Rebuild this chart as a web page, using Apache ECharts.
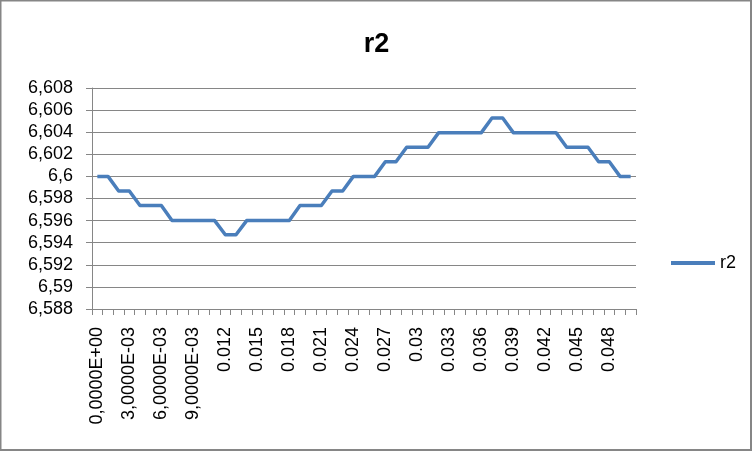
<!DOCTYPE html>
<html>
<head>
<meta charset="utf-8">
<script src="https://cdn.jsdelivr.net/npm/echarts@6/dist/echarts.min.js"></script>
<style>
html,body{margin:0;padding:0;background:#fff;}
#chart{width:753px;height:451px;}
</style>
</head>
<body>
<div id="chart"></div>
<script>
var categories = [
  "0,0000E+00","1,0000E-03","2,0000E-03","3,0000E-03","4,0000E-03",
  "5,0000E-03","6,0000E-03","7,0000E-03","8,0000E-03","9,0000E-03",
  "0.01","0.011","0.012","0.013","0.014","0.015","0.016","0.017","0.018","0.019",
  "0.02","0.021","0.022","0.023","0.024","0.025","0.026","0.027","0.028","0.029",
  "0.03","0.031","0.032","0.033","0.034","0.035","0.036","0.037","0.038","0.039",
  "0.04","0.041","0.042","0.043","0.044","0.045","0.046","0.047","0.048","0.049",
  "0.05"
];
var r2Values = [
  6.6, 6.6, 6.59868, 6.59868, 6.59736, 6.59736, 6.59736, 6.596, 6.596, 6.596,
  6.596, 6.596, 6.59472, 6.59472, 6.596, 6.596, 6.596, 6.596, 6.596, 6.59736,
  6.59736, 6.59736, 6.59868, 6.59868, 6.6, 6.6, 6.6, 6.60132, 6.60132, 6.60264,
  6.60264, 6.60264, 6.60396, 6.60396, 6.60396, 6.60396, 6.60396, 6.60528, 6.60528, 6.60396,
  6.60396, 6.60396, 6.60396, 6.60396, 6.60264, 6.60264, 6.60264, 6.60132, 6.60132, 6.6,
  6.6
];
var seriesName = "r2";
var chartTitle = "r2";
var yMin = 6.588, yMax = 6.608, yStep = 0.002;

var FONT = "'Liberation Sans', Arial, sans-serif";
var GRAY = "#868686";
var BLUE = "#4a7ebb";

var chart = echarts.init(document.getElementById('chart'), null, {renderer: 'canvas'});
chart.setOption({
  animation: false,
  backgroundColor: '#ffffff',
  title: {
    text: chartTitle,
    left: 'center',
    top: 26,
    textStyle: {fontFamily: FONT, fontSize: 27, fontWeight: 'bold', color: '#000'}
  },
  legend: {
    data: [{name: seriesName, icon: 'path://M0,0H44V4H0Z'}],
    left: 666,
    top: 249,
    orient: 'vertical',
    itemWidth: 44,
    itemHeight: 4,
    itemGap: 5,
    textStyle: {fontFamily: FONT, fontSize: 18, color: '#000'}
  },
  grid: {left: 92, right: 117, top: 88, bottom: 142, containLabel: false},
  xAxis: {
    type: 'category',
    data: categories,
    boundaryGap: true,
    axisLine: {show: true, lineStyle: {color: GRAY, width: 1}},
    axisTick: {show: true, interval: 0, length: 6, lineStyle: {color: GRAY}},
    axisLabel: {
      interval: 2,
      rotate: 90,
      margin: 18,
      fontFamily: FONT,
      fontSize: 18,
      color: '#000'
    },
    splitLine: {show: false}
  },
  yAxis: {
    type: 'value',
    min: yMin,
    max: yMax,
    interval: yStep,
    axisLine: {show: true, lineStyle: {color: GRAY, width: 1}},
    axisTick: {show: true, length: 6, lineStyle: {color: GRAY}},
    axisLabel: {
      margin: 19,
      fontFamily: FONT,
      fontSize: 18,
      color: '#000',
      formatter: function (v) {
        return String(Number(v.toFixed(3))).replace('.', ',');
      }
    },
    splitLine: {show: true, lineStyle: {color: GRAY, width: 1}}
  },
  series: [{
    name: seriesName,
    type: 'line',
    data: r2Values,
    symbol: 'none',
    showSymbol: false,
    lineStyle: {color: BLUE, width: 3.5, join: 'round'},
    itemStyle: {color: BLUE}
  }],
  graphic: [{
    type: 'rect',
    shape: {x: 0.5, y: 0.5, width: 750.5, height: 449.5},
    style: {fill: 'none', stroke: GRAY, lineWidth: 2},
    silent: true,
    z: 100
  }]
});
</script>
</body>
</html>
